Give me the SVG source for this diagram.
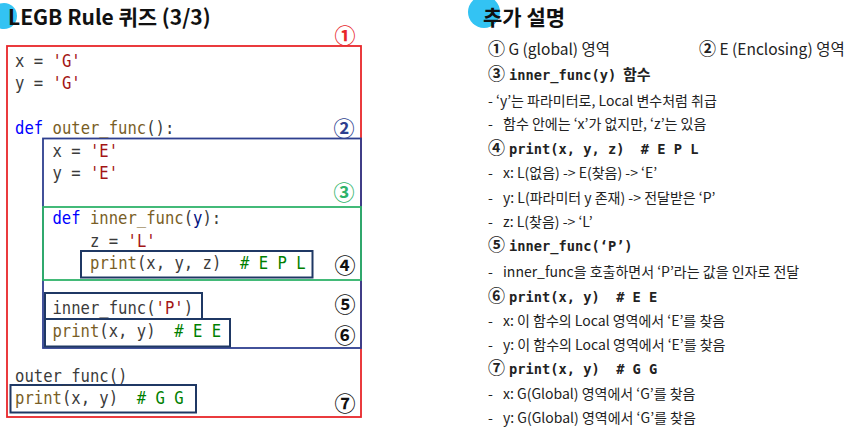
<svg xmlns="http://www.w3.org/2000/svg" width="845" height="428" viewBox="0 0 845 428">
<style>
text{white-space:pre}
.title{font-family:"Noto Sans CJK KR","Noto Sans",sans-serif;font-weight:bold;font-size:21px;fill:#111}
.code{font-family:"DejaVu Sans Mono","Liberation Mono",monospace;font-size:17px;fill:#3b3b3b}
.str{fill:#a31515}
.kw{fill:#0000ff}
.fn{fill:#795e26}
.par{fill:#001080}
.cm{fill:#008000}
.num{font-family:"Noto Sans CJK KR","DejaVu Sans",sans-serif;font-size:21px;font-weight:bold}
.cn{font-family:"Noto Sans CJK KR","DejaVu Sans",sans-serif;font-size:17px;font-weight:bold;fill:#222}
.exp{font-family:"Noto Sans CJK KR","Noto Sans",sans-serif;font-size:14px;fill:#222}
.head{font-family:"Noto Sans CJK KR","Noto Sans",sans-serif;font-size:15.5px;fill:#222}
.bm{font-family:"DejaVu Sans Mono","Liberation Mono",monospace;font-weight:bold;font-size:13.7px;fill:#222}
.hb{font-family:"Noto Sans CJK KR",sans-serif;font-weight:bold;font-size:15px;fill:#222}
.box{fill:none;stroke:#1f3864;stroke-width:2}
</style>
<g id="titles">
<circle cx="4" cy="16" r="13" fill="#33c3f3"/>
<text class="title" x="8" y="25">LEGB Rule 퀴즈 (3/3)</text>
<circle cx="484" cy="12" r="16" fill="#33c3f3"/>
<text class="title" x="483" y="25">추가 설명</text>
</g>
<g id="scopes">
<rect id="global" x="7" y="46" width="354" height="371" fill="none" stroke="#e8262a" stroke-width="1.8"/>
<rect id="enclosing" x="43" y="138.5" width="318" height="209.5" fill="none" stroke="#2e3f8f" stroke-width="1.8"/>
<rect id="inner" x="43" y="207" width="318" height="73" fill="none" stroke="#2fb36a" stroke-width="1.8"/>
<rect id="b4" class="box" x="81" y="251" width="231.5" height="26.5"/>
<rect id="b5" class="box" x="45" y="293" width="157" height="26"/>
<rect id="b6" class="box" x="45" y="319" width="185" height="27.5"/>
<rect id="b7" class="box" x="10.5" y="385" width="185.5" height="27.5"/>
</g>
<g id="markers" class="num">
<text x="345" y="43" text-anchor="middle" fill="#e8262a">①</text>
<text x="344" y="136" text-anchor="middle" fill="#2e3f8f">②</text>
<text x="344" y="200" text-anchor="middle" fill="#2fb36a">③</text>
<text x="345" y="273" text-anchor="middle" fill="#111">④</text>
<text x="345" y="312" text-anchor="middle" fill="#111">⑤</text>
<text x="345" y="343" text-anchor="middle" fill="#111">⑥</text>
<text x="345" y="411" text-anchor="middle" fill="#111">⑦</text>
</g>
<g id="code" class="code" transform="scale(0.916,1)">
<text x="16.4" y="67">x = <tspan class="str">'G'</tspan></text>
<text x="16.4" y="89.5">y = <tspan class="str">'G'</tspan></text>
<text x="16.4" y="134"><tspan class="kw">def</tspan> <tspan class="fn">outer_func</tspan>():</text>
<text x="57.3" y="157">x = <tspan class="str">'E'</tspan></text>
<text x="57.3" y="179.5">y = <tspan class="str">'E'</tspan></text>
<text x="57.3" y="224.5"><tspan class="kw">def</tspan> <tspan class="fn">inner_func</tspan>(<tspan class="par">y</tspan>):</text>
<text x="98.3" y="247">z = <tspan class="str">'L'</tspan></text>
<text x="98.3" y="269.5"><tspan class="fn">print</tspan>(x, y, z)  <tspan class="cm"># E P L</tspan></text>
<text x="57.3" y="314.5">inner_func(<tspan class="str">'P'</tspan>)</text>
<text x="57.3" y="337"><tspan class="fn">print</tspan>(x, y)  <tspan class="cm"># E E</tspan></text>
<text x="16.4" y="382">outer_func()</text>
<text x="16.4" y="404.5"><tspan class="fn">print</tspan>(x, y)  <tspan class="cm"># G G</tspan></text>
</g>
<g id="notes">
<text class="head" x="488" y="55"><tspan class="cn" fill="#e8262a">①</tspan> G (global) 영역</text>
<text class="head" x="699" y="55"><tspan class="cn" fill="#2e3f8f">②</tspan> E (Enclosing) 영역</text>
<text x="488" y="80"><tspan class="cn" fill="#2fb36a">③</tspan><tspan class="bm" x="509">inner_func(y)</tspan><tspan class="hb" x="623">함수</tspan></text>
<text class="exp" x="488" y="106">- ‘y’는 파라미터로, Local 변수처럼 취급</text>
<text class="exp" x="488" y="129">-<tspan x="503">함수 안에는 ‘x’가 없지만, ‘z’는 있음</tspan></text>
<text x="488" y="154"><tspan class="cn">④</tspan><tspan class="bm" x="509">print(x, y, z)  # E P L</tspan></text>
<text class="exp" x="488" y="178">-<tspan x="503">x: L(없음) -&gt; E(찾음) -&gt; ‘E’</tspan></text>
<text class="exp" x="488" y="203">-<tspan x="503">y: L(파라미터 y 존재) -&gt; 전달받은 ‘P’</tspan></text>
<text class="exp" x="488" y="227">-<tspan x="503">z: L(찾음) -&gt; ‘L’</tspan></text>
<text x="488" y="251"><tspan class="cn">⑤</tspan><tspan class="bm" x="509">inner_func(‘P’)</tspan></text>
<text class="exp" x="488" y="277">-<tspan x="503">inner_func을 호출하면서 ‘P’라는 값을 인자로 전달</tspan></text>
<text x="488" y="302"><tspan class="cn">⑥</tspan><tspan class="bm" x="509">print(x, y)  # E E</tspan></text>
<text class="exp" x="488" y="326">-<tspan x="503">x: 이 함수의 Local 영역에서 ‘E’를 찾음</tspan></text>
<text class="exp" x="488" y="350">-<tspan x="503">y: 이 함수의 Local 영역에서 ‘E’를 찾음</tspan></text>
<text x="488" y="374"><tspan class="cn">⑦</tspan><tspan class="bm" x="509">print(x, y)  # G G</tspan></text>
<text class="exp" x="488" y="399">-<tspan x="503">x: G(Global) 영역에서 ‘G’를 찾음</tspan></text>
<text class="exp" x="488" y="423">-<tspan x="503">y: G(Global) 영역에서 ‘G’를 찾음</tspan></text>
</g>
</svg>
